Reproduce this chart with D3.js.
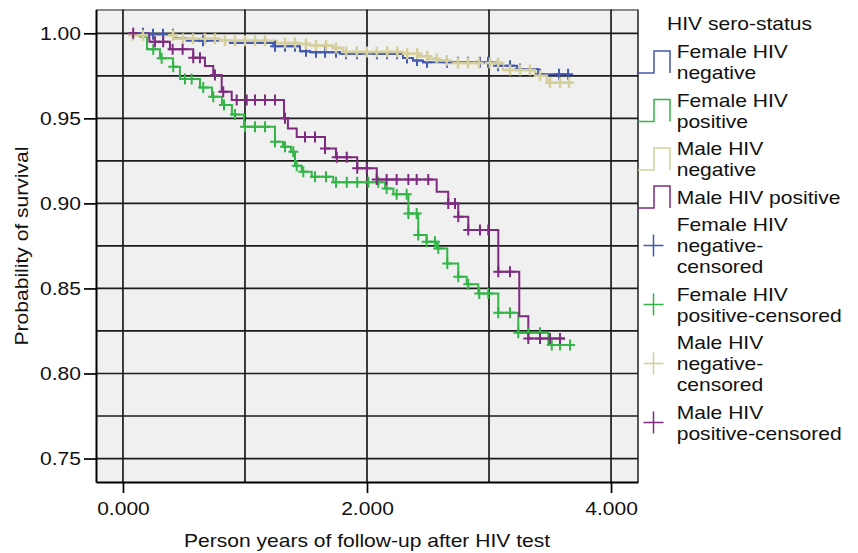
<!DOCTYPE html>
<html>
<head>
<meta charset="utf-8">
<script src="https://cdn.jsdelivr.net/npm/d3@7"></script>
<style>
	body { margin: 0; background: #fff; }
	svg text { font-family: "Liberation Sans", Arial, Helvetica, sans-serif; font-size: 18px; fill: #111; }
</style>
</head>
<body>
<svg id="chart" width="858" height="553"></svg>
<script>
// follow-up time where all curves start
var startTime = 45;

// Female HIV negative
var femNegTime = [180, 412, 522, 877, 1232, 1451, 1533, 1779, 2295, 2377, 2459, 3066, 3230, 3402];
var femNegSurv = [0.9995, 0.9972, 0.9957, 0.9943, 0.9924, 0.9894, 0.9888, 0.988, 0.9855, 0.984, 0.983, 0.981, 0.979, 0.976];
var femNegCensor = [164, 246, 328, 410, 656, 1246, 1328, 1410, 1500, 1582, 1656, 1746, 1828, 1918, 2082, 2164, 2246, 2328, 2410, 2492, 2656, 2746, 2828, 2926, 2992, 3074, 3172, 3254, 3418, 3574, 3648];
var femNegEnd = 3664;

// Female HIV positive
var femPosTime = [139, 197, 303, 410, 467, 631, 730, 811, 893, 992, 1246, 1311, 1377, 1410, 1465, 1547, 1724, 2148, 2216, 2339, 2420, 2489, 2571, 2658, 2748, 2817, 2912, 3076, 3240, 3486];
var femPosSurv = [0.998, 0.9906, 0.9853, 0.9804, 0.9731, 0.9682, 0.9627, 0.9578, 0.9522, 0.9451, 0.9362, 0.9333, 0.9304, 0.9221, 0.9186, 0.9157, 0.9124, 0.9088, 0.9054, 0.8941, 0.8814, 0.8775, 0.8735, 0.8647, 0.8569, 0.8525, 0.847, 0.8357, 0.8239, 0.8167];
var femPosCensor = [248, 317, 412, 508, 563, 658, 740, 828, 918, 1000, 1082, 1164, 1246, 1328, 1396, 1424, 1478, 1574, 1664, 1746, 1834, 1920, 2011, 2093, 2161, 2243, 2325, 2339, 2407, 2420, 2489, 2557, 2584, 2658, 2748, 2830, 2920, 2994, 3076, 3172, 3240, 3322, 3418, 3514, 3582, 3664];
var femPosEnd = 3689;

// Male HIV negative
var maleNegTime = [82, 412, 795, 1260, 1451, 1533, 1721, 1803, 2295, 2418, 2500, 2574, 2656, 3115, 3377, 3475];
var maleNegSurv = [0.9988, 0.9968, 0.9957, 0.9943, 0.9937, 0.9929, 0.9914, 0.989, 0.988, 0.9865, 0.9851, 0.984, 0.9826, 0.9784, 0.975, 0.971];
var maleNegCensor = [82, 164, 410, 492, 574, 672, 754, 836, 918, 1000, 1082, 1164, 1328, 1410, 1500, 1582, 1664, 1746, 1828, 1916, 1998, 2080, 2166, 2248, 2330, 2412, 2494, 2571, 2653, 2746, 2828, 2918, 3008, 3074, 3172, 3254, 3336, 3418, 3500, 3582, 3656];
var maleNegEnd = 3689;

// Male HIV positive
var malePosTime = [216, 385, 576, 672, 740, 809, 891, 1320, 1352, 1424, 1656, 1746, 1920, 2080, 2571, 2666, 2748, 2830, 3076, 3248, 3322];
var malePosSurv = [0.995, 0.9906, 0.9857, 0.9808, 0.9755, 0.9657, 0.9608, 0.95, 0.944, 0.939, 0.9323, 0.9271, 0.9206, 0.9141, 0.9069, 0.9, 0.8921, 0.8843, 0.8598, 0.8337, 0.8206];
var malePosCensor = [84, 262, 330, 407, 489, 576, 631, 754, 822, 932, 1014, 1082, 1164, 1246, 1328, 1492, 1574, 1656, 1752, 1834, 1920, 1998, 2080, 2161, 2243, 2339, 2407, 2502, 2666, 2721, 2748, 2830, 2926, 2994, 3076, 3172, 3322, 3418, 3500, 3582];
var malePosEnd = 3623;

// axes
var xTicks = [0, 2000, 4000];
var yTicks = [0.75, 0.80, 0.85, 0.90, 0.95, 1.00];
var xGrid = [0, 1000, 2000, 3000, 4000];
var yGrid = [0.75, 0.775, 0.80, 0.825, 0.85, 0.875, 0.90, 0.925, 0.95, 0.975, 1.00];

// legend
var legendTitle = "HIV sero-status";
var lineLabels = [["Female HIV", "negative"], ["Female HIV", "positive"], ["Male HIV", "negative"], ["Male HIV positive"]];
var censorLabels = [["Female HIV", "negative-", "censored"], ["Female HIV", "positive-censored"], ["Male HIV", "negative-", "censored"], ["Male HIV", "positive-censored"]];

var series = [
	{time: femNegTime, surv: femNegSurv, censor: femNegCensor, end: femNegEnd, color: "#4259b2", width: 2},
	{time: femPosTime, surv: femPosSurv, censor: femPosCensor, end: femPosEnd, color: "#33b548", width: 2},
	{time: maleNegTime, surv: maleNegSurv, censor: maleNegCensor, end: maleNegEnd, color: "#d5cf9c", width: 2.5},
	{time: malePosTime, surv: malePosSurv, censor: malePosCensor, end: malePosEnd, color: "#7c2b7f", width: 2}
];

var stretch = 1.17;

var svg = d3.select("#chart");
var margin = {top: 9.5, left: 96};
var width = 542, height = 472.5;

var x = d3.scaleLinear().domain([-221, 4221]).range([0, width]);
var y = d3.scaleLinear().domain([0.7362, 1.014]).range([height, 0]);

function addText(parent, px, py, str, anchor, rotate) {
	return parent.append("text")
		.attr("transform", "translate(" + px + "," + py + ")" + (rotate ? " rotate(-90)" : "") + " scale(" + stretch + ",1)")
		.attr("text-anchor", anchor)
		.text(str);
}

function survAt(s, t) {
	var v = 1;
	for (var i = 0; i < s.time.length; i++) {
		if (s.time[i] <= t) v = s.surv[i];
	}
	return v;
}

var g = svg.append("g")
	.attr("transform", "translate(" + margin.left + "," + margin.top + ")");

// plot background and frame
g.append("rect")
	.attr("width", width)
	.attr("height", height)
	.attr("fill", "#f0f0f0");

g.append("line").attr("x1", 0).attr("x2", width).attr("y1", 0.5).attr("y2", 0.5)
	.attr("stroke", "#8a8a8a").attr("stroke-width", 2);
g.append("line").attr("x1", width).attr("x2", width).attr("y1", 0).attr("y2", height)
	.attr("stroke", "#555").attr("stroke-width", 2);

// grid
g.selectAll(".vgrid").data(xGrid).enter().append("line")
	.attr("class", "vgrid")
	.attr("x1", function(d) { return x(d); })
	.attr("x2", function(d) { return x(d); })
	.attr("y1", 0).attr("y2", height)
	.attr("stroke", "#1c1c1c").attr("stroke-width", 1.7);

g.selectAll(".hgrid").data(yGrid).enter().append("line")
	.attr("class", "hgrid")
	.attr("x1", 0).attr("x2", width)
	.attr("y1", function(d) { return y(d); })
	.attr("y2", function(d) { return y(d); })
	.attr("stroke", "#1c1c1c").attr("stroke-width", 1.7);

// axes
var yAxis = g.append("g")
	.call(d3.axisLeft(y).tickValues(yTicks).tickSize(12).tickSizeOuter(0).tickFormat(d3.format(".2f")));
yAxis.select(".domain").attr("stroke", "#000").attr("stroke-width", 2);
yAxis.selectAll(".tick line").attr("stroke", "#000").attr("stroke-width", 1.7);
yAxis.selectAll(".tick text")
	.attr("x", -15 / stretch)
	.attr("dy", "0.34em")
	.attr("transform", "scale(" + stretch + ",1)")
	.style("font-size", "18px").style("font-family", null).attr("fill", "#111");
yAxis.attr("font-family", null).attr("font-size", null);

var xAxis = g.append("g")
	.attr("transform", "translate(0," + height + ")")
	.call(d3.axisBottom(x).tickValues(xTicks).tickSize(11).tickSizeOuter(0)
		.tickFormat(function(d) { return (d / 1000).toFixed(3); }));
xAxis.select(".domain").attr("stroke", "#000").attr("stroke-width", 2);
xAxis.selectAll(".tick line").attr("stroke", "#000").attr("stroke-width", 1.7);
xAxis.selectAll(".tick text")
	.attr("y", 33)
	.attr("dy", 0)
	.attr("transform", "scale(" + stretch + ",1)")
	.style("font-size", "18px").attr("fill", "#111");
xAxis.attr("font-family", null).attr("font-size", null);

// axis titles
addText(svg, 367, 547, "Person years of follow-up after HIV test", "middle");
addText(svg, 28, 246, "Probability of survival", "middle", true);

// survival curves
var stepLine = d3.line()
	.x(function(d) { return x(d[0]); })
	.y(function(d) { return y(d[1]); })
	.curve(d3.curveStepAfter);

series.forEach(function(s) {
	var pts = [[startTime, 1]];
	s.time.forEach(function(t, i) { pts.push([t, s.surv[i]]); });
	pts.push([s.end, s.surv[s.surv.length - 1]]);
	g.append("path")
		.datum(pts)
		.attr("d", stepLine)
		.attr("fill", "none")
		.attr("stroke", s.color)
		.attr("stroke-width", s.width);
});

// censored marks
series.forEach(function(s) {
	g.selectAll(null).data(s.censor).enter().append("path")
		.attr("transform", function(d) { return "translate(" + x(d) + "," + y(survAt(s, d)) + ")"; })
		.attr("d", "M-5,0H5M0,-5.5V5.5")
		.attr("stroke", s.color)
		.attr("stroke-width", s.width);
});

// legend
var legend = svg.append("g");
addText(legend, 667, 30, legendTitle, "start");

var ly = 58;
function legendItem(lines, s, kind) {
	var bases = lines.map(function(l, j) { return ly + j * 21; });
	var c = d3.mean(bases) - 6.5;
	if (kind == "line") {
		legend.append("path")
			.attr("d", "M638," + (c + 11) + "H654V" + (c - 11) + "H670V" + (c + 11))
			.attr("fill", "none").attr("stroke", s.color).attr("stroke-width", 1.5);
	} else {
		legend.append("path")
			.attr("d", "M643.5," + c + "H663.5M653.5," + (c - 11) + "V" + (c + 11))
			.attr("fill", "none").attr("stroke", s.color).attr("stroke-width", 1.5);
	}
	lines.forEach(function(l, j) { addText(legend, 676.7, bases[j], l, "start"); });
	ly = bases[bases.length - 1] + 27.5;
}

lineLabels.forEach(function(l, i) { legendItem(l, series[i], "line"); });
censorLabels.forEach(function(l, i) { legendItem(l, series[i], "censor"); });
</script>
</body>
</html>
